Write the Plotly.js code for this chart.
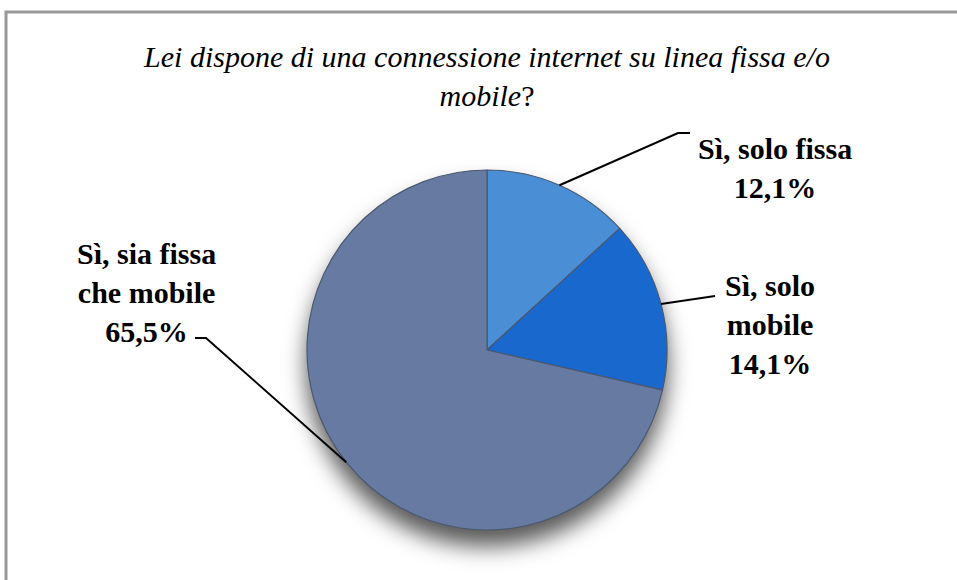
<!DOCTYPE html>
<html>
<head>
<meta charset="utf-8">
<script src="https://cdn.plot.ly/plotly-3.0.1.min.js"></script>
<style>
  html, body { margin: 0; padding: 0; background: #fff; }
  #chart { width: 957px; height: 580px; }
  .pielayer { filter: drop-shadow(0px 16px 11px rgba(0,0,0,0.65)); }
</style>
</head>
<body>
<div id="chart"></div>
<script>
// ---- data ----
const categories = ["Sì, solo fissa", "Sì, solo mobile", "Sì, sia fissa che mobile"];
const values = [12.1, 14.1, 65.5];
const labelTexts = ["Sì, solo fissa<br>12,1%", "Sì, solo<br>mobile<br>14,1%", "Sì, sia fissa<br>che mobile<br>65,5%"];
const colors = ["#4a8fd6", "#1868cd", "#677ba2"];

// ---- layout geometry (pixels) ----
const W = 957, H = 580;
const cx = 487, cy = 350, R = 180;
const px = x => x / W;
const py = y => 1 - y / H;
const SERIF = 'Liberation Serif';

// label centres and leader elbow/end points (pixels)
const labelPos = [[775, 168], [770, 324], [146, 292]];
const leaderVia = [
  [[678, 133], [690, 133]],
  [[715, 296]],
  [[206, 338], [195, 338]]
];

// edge points computed from the data
const total = values.reduce((a, b) => a + b, 0);
let cum = 0;
const shapes = [];
values.forEach((v, i) => {
  const mid = (cum + v / 2) / total * 2 * Math.PI;
  cum += v;
  const ex = cx + R * Math.sin(mid);
  const ey = cy - R * Math.cos(mid);
  let path = `M ${px(ex)} ${py(ey)}`;
  leaderVia[i].forEach(p => { path += ` L ${px(p[0])} ${py(p[1])}`; });
  shapes.push({ type: 'path', xref: 'paper', yref: 'paper', path: path,
    line: { color: '#000', width: 2 } });
});

// frame
shapes.push({ type: 'rect', xref: 'paper', yref: 'paper', layer: 'below',
  x0: px(6), x1: 1.02, y0: -0.02, y1: py(12),
  line: { color: '#999', width: 3 }, fillcolor: 'rgba(0,0,0,0)' });

const annotations = labelTexts.map((t, i) => ({
  xref: 'paper', yref: 'paper', x: px(labelPos[i][0]), y: py(labelPos[i][1]),
  xanchor: 'center', yanchor: 'middle', showarrow: false, align: 'center',
  text: '<b>' + t + '</b>',
  font: { family: SERIF, size: 30, color: '#000' }
}));

const trace = {
  type: 'pie',
  labels: categories,
  values: values,
  sort: false,
  direction: 'clockwise',
  rotation: 0,
  textinfo: 'none',
  hoverinfo: 'label+percent',
  marker: { colors: colors, line: { color: '#4a5870', width: 1.2 } },
  domain: { x: [px(cx - R), px(cx + R)], y: [py(cy + R), py(cy - R)] },
  showlegend: false
};

const layout = {
  width: W, height: H,
  margin: { l: 0, r: 0, t: 0, b: 0 },
  paper_bgcolor: '#fff',
  showlegend: false,
  font: { family: SERIF },
  title: {
    text: '<i>Lei dispone di una connessione internet su linea fissa e/o<br>mobile</i>?',
    font: { family: SERIF, size: 30, color: '#000' },
    x: px(487), xanchor: 'center', y: py(67), yanchor: 'top', xref: 'paper', yref: 'paper'
  },
  shapes: shapes,
  annotations: annotations
};

Plotly.newPlot('chart', [trace], layout, { displayModeBar: false, staticPlot: true });
</script>
</body>
</html>
